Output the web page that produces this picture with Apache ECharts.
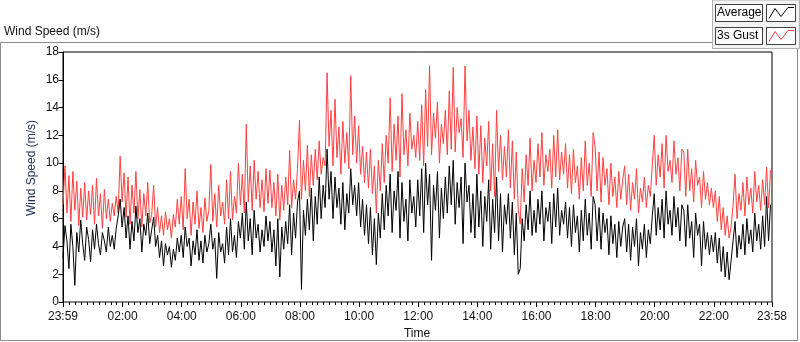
<!DOCTYPE html>
<html>
<head>
<meta charset="utf-8">
<script src="https://cdn.jsdelivr.net/npm/echarts@6/dist/echarts.min.js"></script>
<style>
  html, body { margin: 0; padding: 0; background: #fff; }
  #chart { width: 800px; height: 342px; }
</style>
</head>
<body>
<div id="chart"></div>
<script>
// samples every 4 minutes, starting at 23:59 (minute -1 of the day)
const startMinute = -1;
const stepMinutes = 4;

// 3 s gust, one row per hour (15 samples each)
const gust = [
  7.0, 9.8, 6.4, 9.1, 5.8, 9.4, 6.6, 8.7, 5.5, 8.2, 6.1, 8.6, 5.9, 8.0, 6.3,
  8.4, 5.6, 8.9, 6.2, 7.8, 5.3, 8.1, 6.0, 7.4, 5.8, 7.1, 6.2, 7.6, 6.4, 10.5,
  7.2, 9.3, 6.1, 9.0, 5.6, 8.4, 6.4, 9.4, 6.0, 8.1, 5.4, 7.8, 6.2, 8.6, 5.7,
  6.3, 8.4, 5.4, 6.8, 5.0, 6.2, 4.8, 6.5, 5.2, 6.0, 4.6, 6.3, 5.4, 7.4, 5.6,
  7.6, 5.2, 9.6, 6.0, 7.4, 4.8, 7.2, 5.6, 8.0, 5.3, 6.8, 5.0, 7.5, 5.8, 6.6,
  9.9, 5.8, 7.8, 5.4, 8.4, 6.2, 7.2, 5.6, 8.8, 6.0, 9.4, 5.9, 7.6, 6.4, 10.0,
  7.0, 9.2, 6.4, 12.8, 7.2, 9.8, 6.6, 10.2, 7.4, 9.4, 6.8, 8.8, 6.5, 9.6, 7.1,
  9.5, 6.8, 8.6, 6.2, 9.2, 5.9, 8.4, 6.6, 9.0, 7.0, 10.9, 6.8, 8.8, 7.4, 9.6,
  13.1, 7.4, 10.2, 8.0, 11.3, 7.6, 10.6, 8.4, 11.0, 8.8, 11.6, 9.2, 10.4, 9.8, 16.5,
  11.2, 13.8, 9.8, 14.6, 10.4, 12.6, 9.2, 13.0, 10.0, 12.2, 9.6, 16.3, 10.6, 13.4, 10.0,
  12.7, 9.2, 11.2, 8.6, 10.8, 8.2, 11.0, 7.8, 9.8, 6.4, 10.2, 8.0, 11.4, 8.6, 12.0,
  10.0, 14.7, 9.4, 12.8, 10.2, 13.4, 9.0, 15.0, 10.6, 12.4, 9.8, 13.6, 11.0, 12.0, 10.4,
  13.0, 10.2, 14.2, 9.8, 15.3, 11.2, 17.0, 10.6, 13.6, 11.8, 14.4, 10.0, 12.8, 11.4, 13.8,
  10.6, 15.2, 11.0, 16.9, 10.8, 14.0, 12.2, 13.2, 10.4, 17.0, 11.6, 13.8, 10.2, 12.6, 9.6,
  13.4, 9.2, 12.7, 8.6, 11.8, 9.8, 13.0, 8.0, 11.4, 7.6, 13.8, 9.4, 12.0, 8.8, 11.2,
  9.0, 12.4, 8.2, 11.6, 7.4, 10.8, 6.6, 5.6, 9.6, 7.2, 10.6, 8.4, 11.8, 8.0, 10.2,
  8.6, 11.4, 9.0, 12.2, 8.4, 10.6, 9.4, 11.0, 8.2, 12.0, 9.0, 12.4, 8.8, 10.8, 9.2,
  11.4, 8.2, 10.6, 7.8, 11.0, 8.6, 9.8, 7.4, 10.4, 8.0, 11.6, 8.4, 10.0, 7.6, 12.2,
  11.2, 8.0, 10.8, 7.2, 10.4, 8.4, 9.6, 7.0, 10.0, 7.6, 9.0, 6.8, 9.4, 7.4, 8.8,
  9.8, 7.0, 9.2, 6.6, 8.6, 7.4, 9.6, 6.4, 8.2, 7.2, 9.0, 6.8, 8.4, 7.6, 9.8,
  12.0, 8.4, 10.6, 9.0, 11.4, 8.2, 12.0, 9.4, 10.2, 8.6, 11.6, 9.2, 10.4, 8.0, 11.0,
  10.8, 7.6, 11.0, 8.0, 9.6, 7.2, 10.2, 8.4, 9.0, 6.8, 9.4, 7.4, 8.6, 7.0, 8.2,
  6.8, 8.0, 5.8, 7.6, 5.2, 6.8, 4.8, 6.2, 4.6, 5.4, 7.0, 9.2, 6.0, 7.8, 6.6,
  8.6, 6.2, 9.0, 7.0, 8.2, 6.4, 9.4, 7.2, 8.4, 6.6, 8.8, 7.0, 9.7, 6.8, 9.5
];

// average wind speed, same sampling
const average = [
  3.2, 5.5, 4.4, 2.4, 5.6, 4.0, 1.2, 5.0, 3.6, 5.9, 4.2, 3.0, 5.4, 4.5, 2.9,
  5.2, 3.8, 5.6, 4.2, 3.4, 5.0, 4.4, 3.6, 5.4, 4.0, 4.8, 3.8, 5.3, 6.2, 7.4,
  5.4, 6.8, 4.6, 6.2, 3.8, 5.8, 4.4, 6.9, 5.0, 6.0, 3.6, 5.6, 4.8, 6.4, 4.2,
  5.2, 6.1, 4.0, 4.8, 3.2, 4.4, 2.6, 4.2, 3.4, 4.0, 2.5, 3.8, 3.0, 4.6, 3.6,
  4.8, 3.2, 5.4, 4.0, 4.6, 2.6, 4.4, 3.4, 5.2, 3.0, 4.4, 2.8, 4.8, 3.6, 4.2,
  5.6, 3.8, 4.6, 1.7, 5.0, 3.6, 4.2, 2.8, 5.4, 3.4, 6.0, 3.6, 4.8, 3.2, 5.8,
  4.6, 6.4, 3.8, 7.2, 4.4, 6.0, 3.4, 6.6, 4.6, 5.6, 3.6, 5.2, 4.0, 6.2, 4.4,
  5.8, 3.6, 5.2, 2.6, 6.0, 1.8, 5.4, 3.8, 5.8, 4.2, 7.0, 3.4, 6.4, 4.6, 7.2,
  8.0, 0.9, 6.6, 4.8, 7.4, 5.2, 8.2, 4.4, 7.6, 5.6, 9.0, 6.0, 8.4, 6.8, 11.0,
  7.4, 9.4, 6.0, 9.0, 6.8, 8.2, 5.6, 8.6, 5.2, 7.8, 6.4, 9.6, 7.0, 8.4, 6.2,
  8.6, 5.4, 7.4, 4.8, 7.0, 4.2, 6.8, 3.4, 6.0, 2.7, 6.4, 4.6, 7.8, 5.2, 8.4,
  6.2, 9.2, 5.0, 8.0, 6.6, 9.4, 4.6, 8.6, 5.8, 7.4, 4.4, 8.8, 6.4, 7.6, 5.4,
  8.8, 6.2, 9.6, 5.0, 10.0, 7.0, 9.2, 3.0, 8.4, 6.6, 9.4, 4.6, 8.2, 6.0, 9.0,
  6.4, 9.8, 7.0, 10.2, 5.6, 8.6, 6.8, 9.0, 4.2, 10.0, 7.2, 8.4, 5.0, 7.8, 4.6,
  9.2, 5.4, 8.0, 4.0, 7.6, 5.8, 8.8, 3.8, 7.4, 5.0, 9.0, 4.4, 7.8, 3.6, 7.0,
  5.6, 7.8, 4.6, 7.2, 3.4, 6.4, 2.0, 2.4, 6.0, 4.4, 7.0, 5.2, 8.0, 4.8, 6.6,
  5.0, 7.4, 5.6, 8.0, 4.4, 6.8, 5.8, 7.2, 4.2, 7.8, 5.4, 8.2, 4.8, 6.6, 5.6,
  7.2, 4.6, 6.8, 4.0, 7.0, 5.0, 6.2, 3.6, 6.6, 4.4, 7.4, 4.8, 6.4, 3.8, 7.6,
  7.0, 4.4, 6.8, 3.8, 6.4, 5.0, 6.0, 3.4, 6.2, 4.2, 5.6, 3.2, 5.8, 4.0, 5.4,
  6.0, 3.6, 5.6, 3.0, 5.4, 4.0, 6.0, 2.6, 5.0, 3.8, 5.6, 3.2, 5.2, 4.2, 6.2,
  7.8, 4.8, 6.8, 5.2, 7.4, 4.6, 8.0, 5.6, 6.6, 4.8, 7.6, 5.4, 6.8, 4.4, 7.0,
  6.6, 4.0, 7.0, 4.6, 5.8, 3.2, 6.4, 4.8, 5.6, 2.6, 5.8, 3.8, 5.0, 3.4, 4.8,
  3.6, 5.0, 2.8, 4.6, 2.2, 4.0, 1.8, 3.6, 1.6, 3.0, 4.4, 5.8, 3.2, 4.8, 3.8,
  5.6, 3.4, 6.0, 4.2, 5.2, 3.6, 6.4, 4.4, 5.6, 3.8, 6.2, 4.0, 7.6, 4.4, 7.0
];

// time axis labels (minutes of day, 23:59 = -1)
const tickMinutes = [-1, 120, 240, 360, 480, 600, 720, 840, 960, 1080, 1200, 1320, 1438];
const tickLabels = ['23:59', '02:00', '04:00', '06:00', '08:00', '10:00', '12:00',
  '14:00', '16:00', '18:00', '20:00', '22:00', '23:58'];
const minorStep = 12;

const toPairs = (arr) => arr.map((v, i) => [startMinute + i * stepMinutes, v]);

const minorTicks = [];
for (let m = minorStep; m < 1438; m += minorStep) {
  if (m % 120 !== 0) minorTicks.push(m);
}

const labelOf = {};
tickMinutes.forEach((m, i) => { labelOf[m] = tickLabels[i]; });

const FONT = 'Liberation Sans';
const chart = echarts.init(document.getElementById('chart'), null, { renderer: 'canvas' });

const legendIcon = (y, color) => ({
  type: 'group',
  children: [
    { type: 'rect', shape: { x: 766.5, y: y, width: 29, height: 17 },
      style: { fill: '#fff', stroke: '#404040', lineWidth: 1 } },
    { type: 'polyline', shape: { points: [[769, y + 14], [775, y + 4], [781, y + 12], [788, y + 3], [794, y + 3]] },
      style: { fill: null, stroke: color, lineWidth: 1 } }
  ]
});

chart.setOption({
  animation: false,
  textStyle: { fontFamily: FONT },
  grid: {
    left: 63, right: 28, top: 52, bottom: 40,
    show: true, borderColor: '#000', borderWidth: 1, backgroundColor: '#fff'
  },
  xAxis: [
    {
      type: 'value', min: -1, max: 1438,
      axisLine: { lineStyle: { color: '#8a8a8a', width: 1 } },
      splitLine: { show: false },
      axisTick: { show: true, length: 5, customValues: tickMinutes, lineStyle: { color: '#000' } },
      axisLabel: {
        customValues: tickMinutes, margin: 9, color: '#111', fontSize: 12, fontFamily: FONT,
        formatter: (v) => labelOf[v] || ''
      }
    },
    {
      type: 'value', min: -1, max: 1438, position: 'bottom',
      axisLine: { show: false },
      splitLine: { show: false },
      axisTick: { show: true, length: 3, customValues: minorTicks, lineStyle: { color: '#000' } },
      axisLabel: { show: false }
    }
  ],
  yAxis: {
    type: 'value', min: 0, max: 18, interval: 2,
    axisLine: { show: true, lineStyle: { color: '#000' } },
    axisTick: { show: true, length: 5, lineStyle: { color: '#000' } },
    splitLine: { show: false },
    axisLabel: { margin: 4, color: '#111', fontSize: 12, fontFamily: FONT }
  },
  series: [
    {
      name: '3s Gust', type: 'line', data: toPairs(gust), showSymbol: false, symbol: 'none',
      lineStyle: { color: '#ff4040', width: 1 }, z: 2, clip: true
    },
    {
      name: 'Average', type: 'line', data: toPairs(average), showSymbol: false, symbol: 'none',
      lineStyle: { color: '#000', width: 1 }, z: 3, clip: true
    }
  ],
  graphic: [
    // outer frame
    { type: 'rect', shape: { x: 0.5, y: 42.5, width: 797, height: 298 },
      style: { fill: null, stroke: '#8a8a8a', lineWidth: 1 }, z: -10 },
    { type: 'text', left: 4, top: 26,
      style: { text: 'Wind Speed (m/s)', font: '12px "Liberation Sans"', fill: '#111' } },
    { type: 'text', x: 32, y: 168, rotation: Math.PI / 2,
      style: { text: 'Wind Speed (m/s)', font: '12px "Liberation Sans"', fill: '#1c2d5a',
        textAlign: 'center', textVerticalAlign: 'middle' } },
    { type: 'text', x: 417, y: 334,
      style: { text: 'Time', font: '12px "Liberation Sans"', fill: '#111',
        textAlign: 'center', textVerticalAlign: 'middle' } },
    // legend panel
    { type: 'rect', shape: { x: 712.5, y: 0, width: 87, height: 48.5 },
      style: { fill: '#f3f3f3', stroke: '#b0b0b0', lineWidth: 1 } },
    { type: 'rect', shape: { x: 715.5, y: 4.5, width: 47, height: 17 },
      style: { fill: '#fcfcfc', stroke: '#404040', lineWidth: 1 } },
    { type: 'text', x: 717, y: 13,
      style: { text: 'Average', font: '12px "Liberation Sans"', fill: '#000', textVerticalAlign: 'middle' } },
    legendIcon(4.5, '#000'),
    { type: 'rect', shape: { x: 715.5, y: 27.5, width: 47, height: 17 },
      style: { fill: '#fcfcfc', stroke: '#404040', lineWidth: 1 } },
    { type: 'text', x: 717, y: 36,
      style: { text: '3s Gust', font: '12px "Liberation Sans"', fill: '#000', textVerticalAlign: 'middle' } },
    legendIcon(27.5, '#ff4040')
  ]
});
</script>
</body>
</html>
